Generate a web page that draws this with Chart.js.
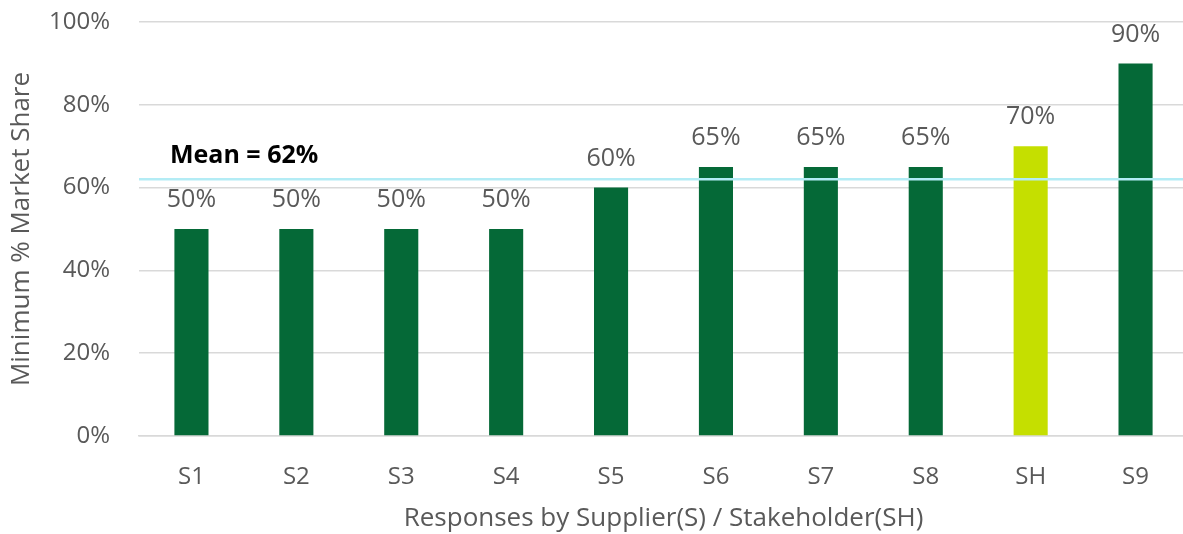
<!DOCTYPE html>
<html>
<head>
<meta charset="utf-8">
<script src="https://cdn.jsdelivr.net/npm/chart.js@4"></script>
<style>
  html, body { margin: 0; padding: 0; background: #fff; overflow: hidden; }
  #wrap { width: 1188px; height: 534px; }
</style>
</head>
<body>
<div id="wrap"><canvas id="myChart" width="1188" height="534"></canvas></div>
<script>
var labels = ["S1", "S2", "S3", "S4", "S5", "S6", "S7", "S8", "SH", "S9"];
var shares = [50, 50, 50, 50, 60, 65, 65, 65, 70, 90];
var barColors = ["#056937", "#056937", "#056937", "#056937", "#056937", "#056937", "#056937", "#056937", "#c5df00", "#056937"];
var meanValue = 62;
var meanText = "Mean = 62%";

var textGray = "#595959";
var fontName = "'Open Sans', 'Liberation Sans', sans-serif";
var fs = 24;

// value labels above bars + the mean line
var extras = {
    id: "extras",
    afterDatasetsDraw: function(chart) {
        var ctx = chart.ctx;
        var meta = chart.getDatasetMeta(0);
        ctx.save();
        ctx.font = "25px " + fontName;
        ctx.fillStyle = textGray;
        ctx.textAlign = "center";
        ctx.textBaseline = "middle";
        meta.data.forEach(function(bar, i) {
            ctx.fillText(shares[i] + "%", bar.x, bar.y - 29);
        });

        var y = chart.scales.y.getPixelForValue(meanValue);
        ctx.strokeStyle = "#b3ecf5";
        ctx.lineWidth = 2.5;
        ctx.beginPath();
        ctx.moveTo(chart.chartArea.left, y);
        ctx.lineTo(chart.chartArea.right, y);
        ctx.stroke();

        ctx.font = "bold 25px " + fontName;
        ctx.fillStyle = "#000";
        ctx.textAlign = "left";
        ctx.textBaseline = "middle";
        ctx.fillText(meanText, 170, y - 23);
        ctx.restore();
    }
};

var myChart = new Chart(document.getElementById("myChart").getContext("2d"), {
    type: "bar",
    data: {
        labels: labels,
        datasets: [{
            data: shares,
            backgroundColor: barColors,
            barPercentage: 0.325,
            categoryPercentage: 1
        }]
    },
    options: {
        responsive: false,
        animation: false,
        layout: { padding: 0 },
        plugins: {
            legend: { display: false },
            tooltip: { enabled: false }
        },
        scales: {
            y: {
                min: 0,
                max: 100,
                ticks: {
                    stepSize: 20,
                    padding: 29,
                    color: textGray,
                    font: { family: fontName, size: fs },
                    callback: function(v) { return v + "%"; }
                },
                grid: { color: "#d9d9d9", lineWidth: 1.5, drawTicks: false },
                border: { display: false },
                title: {
                    display: true,
                    text: "Minimum % Market Share",
                    color: textGray,
                    font: { family: fontName, size: 26 },
                    padding: { top: 6, bottom: 0 }
                },
                afterFit: function(scale) {
                    scale.width = 139;
                    scale.paddingTop = 22;
                }
            },
            x: {
                ticks: {
                    padding: 27,
                    color: textGray,
                    font: { family: fontName, size: fs }
                },
                grid: { display: false, drawTicks: false },
                border: { display: true, color: "#d9d9d9", width: 1.5 },
                title: {
                    display: true,
                    text: "Responses by Supplier(S) / Stakeholder(SH)",
                    color: textGray,
                    font: { family: fontName, size: 26 },
                    padding: { top: 0, bottom: 0 }
                },
                afterFit: function(scale) { scale.height = 98; }
            }
        }
    },
    plugins: [extras]
});
</script>
</body>
</html>
